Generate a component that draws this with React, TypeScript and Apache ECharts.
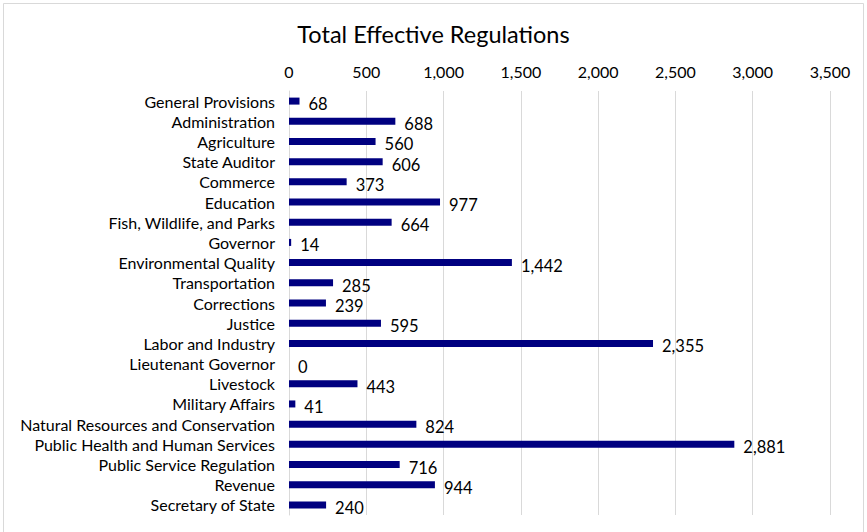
import React, { useEffect, useRef } from "react";
import * as echarts from "echarts";

const categories = [
  "General Provisions",
  "Administration",
  "Agriculture",
  "State Auditor",
  "Commerce",
  "Education",
  "Fish, Wildlife, and Parks",
  "Governor",
  "Environmental Quality",
  "Transportation",
  "Corrections",
  "Justice",
  "Labor and Industry",
  "Lieutenant Governor",
  "Livestock",
  "Military Affairs",
  "Natural Resources and Conservation",
  "Public Health and Human Services",
  "Public Service Regulation",
  "Revenue",
  "Secretary of State",
];

const values = [68, 688, 560, 606, 373, 977, 664, 14, 1442, 285, 239, 595, 2355, 0, 443, 41, 824, 2881, 716, 944, 240];

const title = "Total Effective Regulations";

const fmt = (v: number) => v.toLocaleString("en-US");

export default function App() {
  const ref = useRef<HTMLDivElement>(null);
  useEffect(() => {
    if (!ref.current) return;
    const chart = echarts.init(ref.current, undefined, { renderer: "svg" });
    chart.setOption({
      animation: false,
      backgroundColor: "#fff",
      textStyle: { fontFamily: "Lato" },
      title: {
        text: title,
        left: "center",
        top: 17,
        textStyle: { fontFamily: "Lato", fontSize: 23.5, fontWeight: "normal", color: "#000", letterSpacing: -0.3 },
      },
      graphic: [
        {
          type: "rect",
          shape: { x: 3.5, y: 3.5, width: 860, height: 540 },
          style: { fill: "none", stroke: "#d9d9d9", lineWidth: 1 },
          silent: true,
        },
      ],
      grid: { left: 289, right: 37, top: 91, bottom: 17 },
      xAxis: {
        type: "value",
        position: "top",
        min: 0,
        max: 3500,
        interval: 500,
        axisLine: { show: false },
        axisTick: { show: false },
        axisLabel: {
          fontFamily: "Lato",
          fontSize: 16,
          color: "#000",
          margin: 12,
          formatter: (v: number) => fmt(v),
        },
        splitLine: { show: true, lineStyle: { color: "#d9d9d9", width: 1 } },
      },
      yAxis: {
        type: "category",
        data: categories,
        inverse: true,
        axisLine: { show: true, lineStyle: { color: "#d9d9d9", width: 1 } },
        axisTick: { show: false },
        axisLabel: { interval: 0, fontFamily: "Lato", fontSize: 16, color: "#000", margin: 14 },
      },
      series: [
        {
          type: "bar",
          data: values,
          barWidth: 7,
          itemStyle: { color: "#000080" },
          label: {
            show: true,
            position: "right",
            distance: 9,
            offset: [0, 3],
            fontFamily: "Lato",
            fontSize: 16.5,
            color: "#000",
            formatter: (p: any) => fmt(p.value),
          },
        },
      ],
    });
    return () => chart.dispose();
  }, []);
  return (
    <div
      ref={ref}
      style={{ position: "fixed", left: 0, top: 0, width: 867, height: 532 }}
    />
  );
}
